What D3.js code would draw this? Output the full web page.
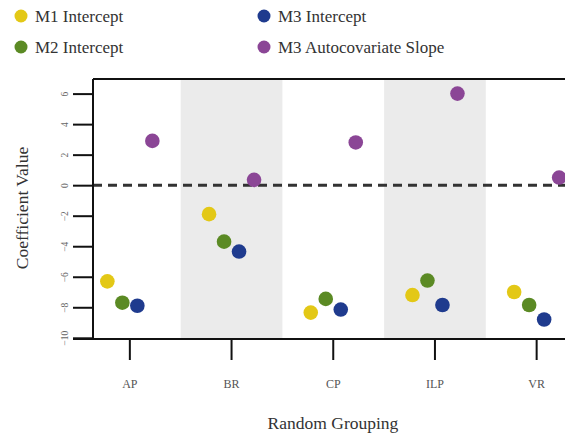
<!DOCTYPE html>
<html>
<head>
<meta charset="utf-8">
<script src="https://cdn.jsdelivr.net/npm/d3@7"></script>
<style>
  html, body { margin: 0; padding: 0; background: #fff; }
  svg text { font-family: "Liberation Serif", "DejaVu Serif", serif !important; }
</style>
</head>
<body>
<svg id="chart" width="565" height="436"></svg>
<script>
// Random grouping levels on the x axis
const groups = ["AP", "BR", "CP", "ILP", "VR"];

// Model terms (one series each)
const seriesNames = ["M1 Intercept", "M2 Intercept", "M3 Intercept", "M3 Autocovariate Slope"];
const seriesColors = ["#e3c816", "#5b8a24", "#1f3b8e", "#8b4696"];

// Coefficient values per grouping, in the order of `groups`
const m1Intercept = [-6.3, -1.9, -8.35, -7.2, -7.0];
const m2Intercept = [-7.7, -3.7, -7.45, -6.25, -7.85];
const m3Intercept = [-7.9, -4.35, -8.15, -7.85, -8.8];
const m3AutoSlope = [2.9, 0.35, 2.8, 6.0, 0.5];

const yTicks = [6, 4, 2, 0, -2, -4, -6, -8, -10];

const seriesValues = [m1Intercept, m2Intercept, m3Intercept, m3AutoSlope];

const SERIF = "'Liberation Serif', 'DejaVu Serif', serif";

const svg = d3.select("#chart");
const W = 565, H = 436;
const plot = { left: 93, top: 79, right: W, bottom: 339 };

// Each grouping owns a band; the first band starts left of the y axis
const x = d3.scaleBand()
  .domain(groups)
  .range([79, 79 + 101.7 * groups.length])
  .paddingInner(0).paddingOuter(0);

const y = d3.scaleLinear()
  .domain([-10, 6])
  .range([337.8, 93.6]);

// Dodge within each band
const dodge = d3.scalePoint()
  .domain(seriesNames)
  .range([-22.5, 22.5]);

// Clip for the panel
svg.append("defs").append("clipPath").attr("id", "panel")
  .append("rect")
  .attr("x", plot.left).attr("y", plot.top)
  .attr("width", plot.right - plot.left).attr("height", plot.bottom - plot.top);

const panel = svg.append("g").attr("clip-path", "url(#panel)");

// Alternating grey bands
panel.selectAll("rect.band")
  .data(groups.filter((d, i) => i % 2 === 1))
  .join("rect")
  .attr("class", "band")
  .attr("x", d => x(d))
  .attr("y", plot.top)
  .attr("width", x.bandwidth())
  .attr("height", plot.bottom - plot.top)
  .attr("fill", "#ebebeb");

// Reference line at zero
panel.append("line")
  .attr("x1", plot.left).attr("x2", plot.right)
  .attr("y1", y(0)).attr("y2", y(0))
  .attr("stroke", "#333")
  .attr("stroke-width", 3)
  .attr("stroke-dasharray", "9,6");

// Points
const points = [];
seriesNames.forEach((s, si) => {
  groups.forEach((g, gi) => {
    points.push({ series: s, group: g, value: seriesValues[si][gi], color: seriesColors[si] });
  });
});

svg.append("g").selectAll("circle")
  .data(points)
  .join("circle")
  .attr("cx", d => x(d.group) + x.bandwidth() / 2 + dodge(d.series))
  .attr("cy", d => y(d.value))
  .attr("r", 7.3)
  .attr("fill", d => d.color);

// Frame: top line, left axis, bottom axis
svg.append("line")
  .attr("x1", plot.left).attr("x2", plot.right)
  .attr("y1", plot.top).attr("y2", plot.top)
  .attr("stroke", "#111").attr("stroke-width", 2);

// Y axis
const yAxis = d3.axisLeft(y)
  .tickValues(yTicks)
  .tickSize(20)
  .tickPadding(0)
  .tickFormat(d3.format("d"));

const gy = svg.append("g")
  .attr("transform", `translate(${plot.left},0)`)
  .call(yAxis)
  .attr("font-family", SERIF);
gy.select(".domain")
  .attr("d", `M0,${plot.top}V${plot.bottom}`)
  .attr("stroke", "#111").attr("stroke-width", 2);
gy.selectAll(".tick line").attr("stroke", "#111").attr("stroke-width", 2);
gy.selectAll(".tick text")
  .attr("x", 0).attr("y", 0).attr("dy", "0.35em")
  .attr("text-anchor", "middle")
  .attr("transform", "translate(-28,0) rotate(-90)")
  .attr("fill", "#666")
  .style("font-size", "9.5px");

// X axis
const xAxis = d3.axisBottom(x).tickSize(21).tickPadding(19);
const gx = svg.append("g")
  .attr("transform", `translate(0,${plot.bottom})`)
  .call(xAxis)
  .attr("font-family", SERIF);
gx.select(".domain")
  .attr("d", `M${plot.left - 20},0H${plot.right}`)
  .attr("stroke", "#111").attr("stroke-width", 2);
gx.selectAll(".tick line").attr("stroke", "#111").attr("stroke-width", 2);
gx.selectAll(".tick text")
  .attr("fill", "#555")
  .style("font-size", "12px");

// Axis titles
svg.append("text")
  .attr("x", 333).attr("y", 429)
  .attr("text-anchor", "middle")
  .attr("fill", "#333")
  .style("font-size", "17.5px")
  .text("Random Grouping");

svg.append("text")
  .attr("transform", "translate(28,208) rotate(-90)")
  .attr("text-anchor", "middle")
  .attr("fill", "#333")
  .style("font-size", "17.5px")
  .text("Coefficient Value");

// Legend
const legendPos = [
  { x: 21, y: 16 }, { x: 21, y: 47 },
  { x: 264, y: 16 }, { x: 264, y: 47 }
];
const legend = svg.append("g").selectAll("g")
  .data(seriesNames)
  .join("g")
  .attr("transform", (d, i) => `translate(${legendPos[i].x},${legendPos[i].y})`);
legend.append("circle")
  .attr("r", 6.5)
  .attr("fill", (d, i) => seriesColors[i]);
legend.append("text")
  .attr("x", 14).attr("dy", "0.35em")
  .attr("fill", "#333")
  .style("font-size", "17px")
  .text(d => d);
</script>
</body>
</html>
